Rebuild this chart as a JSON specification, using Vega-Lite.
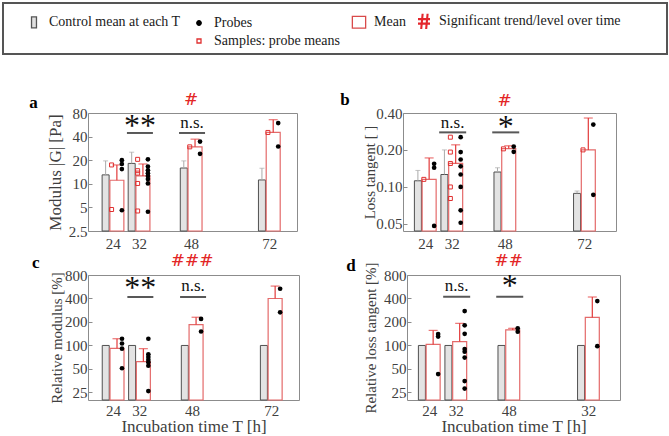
{
"$schema":"https://vega.github.io/schema/vega-lite/v6.json",
"padding":{"left":2,"top":2,"right":2,"bottom":0},
"background":"white",
"config":{
 "font":"Liberation Serif",
 "view":{"stroke":"#8c8c8c","strokeWidth":1},
 "axis":{"domain":false,"grid":false,"ticks":true,"tickSize":-4,"tickColor":"#8c8c8c","tickWidth":1,"labelPadding":9,"minExtent":0,"labelFlush":false,"labelOverlap":false,"labelFont":"Liberation Serif","labelFontSize":15,"labelColor":"#404040","titleFont":"Liberation Serif","titleFontSize":17,"titleFontWeight":"normal","titleColor":"#404040"},
 "axisY":{"labelPadding":5,"minExtent":0}
},
"datasets":{
 "legend":[{"series":"Control mean at each T"},{"series":"Probes"},{"series":"Mean"},{"series":"Significant trend/level over time"},{"series":" "},{"series":"Samples: probe means"}],
 "bars":[
  {"panel":"a","T":24,"group":"control","v":13,"err":19.6},
  {"panel":"a","T":32,"group":"control","v":18.2,"err":25.3},
  {"panel":"a","T":48,"group":"control","v":15.9,"err":19.6},
  {"panel":"a","T":72,"group":"control","v":11.2,"err":15.8},
  {"panel":"a","T":24,"group":"treated","v":11.1,"err":17.4},
  {"panel":"a","T":32,"group":"treated","v":12.6,"err":17.9},
  {"panel":"a","T":48,"group":"treated","v":29.6,"err":37.1},
  {"panel":"a","T":72,"group":"treated","v":45.2,"err":65.7},
  {"panel":"b","T":24,"group":"control","v":0.112,"err":0.136},
  {"panel":"b","T":32,"group":"control","v":0.126,"err":0.2},
  {"panel":"b","T":48,"group":"control","v":0.132,"err":0.143},
  {"panel":"b","T":72,"group":"control","v":0.0884,"err":0.0924},
  {"panel":"b","T":24,"group":"treated","v":0.115,"err":0.172},
  {"panel":"b","T":32,"group":"treated","v":0.155,"err":0.22},
  {"panel":"b","T":48,"group":"treated","v":0.205,"err":0.216},
  {"panel":"b","T":72,"group":"treated","v":0.2,"err":0.364},
  {"panel":"c","T":24,"group":"control","v":100},
  {"panel":"c","T":32,"group":"control","v":100},
  {"panel":"c","T":48,"group":"control","v":100},
  {"panel":"c","T":72,"group":"control","v":100},
  {"panel":"c","T":24,"group":"treated","v":92,"err":122},
  {"panel":"c","T":32,"group":"treated","v":62,"err":91},
  {"panel":"c","T":48,"group":"treated","v":185,"err":230},
  {"panel":"c","T":72,"group":"treated","v":400,"err":577},
  {"panel":"d","T":24,"group":"control","v":100},
  {"panel":"d","T":32,"group":"control","v":100},
  {"panel":"d","T":48,"group":"control","v":100},
  {"panel":"d","T":72,"group":"control","v":100},
  {"panel":"d","T":24,"group":"treated","v":103,"err":156},
  {"panel":"d","T":32,"group":"treated","v":112,"err":192},
  {"panel":"d","T":48,"group":"treated","v":158,"err":166},
  {"panel":"d","T":72,"group":"treated","v":229,"err":418}
 ],
 "probes":[
  {"panel":"a","T":24,"v":20},{"panel":"a","T":24,"v":17.9},{"panel":"a","T":24,"v":15.4},{"panel":"a","T":24,"v":4.6},
  {"panel":"a","T":32,"v":20.5},{"panel":"a","T":32,"v":16.6},{"panel":"a","T":32,"v":14.9},{"panel":"a","T":32,"v":13.6},{"panel":"a","T":32,"v":12.6},{"panel":"a","T":32,"v":11.5},{"panel":"a","T":32,"v":10.1},{"panel":"a","T":32,"v":4.4},
  {"panel":"a","T":48,"v":34.6},{"panel":"a","T":48,"v":24.1},
  {"panel":"a","T":72,"v":59.5},{"panel":"a","T":72,"v":29.9},
  {"panel":"b","T":24,"v":0.154},{"panel":"b","T":24,"v":0.143},{"panel":"b","T":24,"v":0.048},
  {"panel":"b","T":32,"v":0.254},{"panel":"b","T":32,"v":0.192},{"panel":"b","T":32,"v":0.167},{"panel":"b","T":32,"v":0.147},{"panel":"b","T":32,"v":0.126},{"panel":"b","T":32,"v":0.0997},{"panel":"b","T":32,"v":0.0643},{"panel":"b","T":32,"v":0.0509},
  {"panel":"b","T":48,"v":0.213},{"panel":"b","T":48,"v":0.193},
  {"panel":"b","T":72,"v":0.322},{"panel":"b","T":72,"v":0.086},
  {"panel":"c","T":24,"v":122},{"panel":"c","T":24,"v":106},{"panel":"c","T":24,"v":91},{"panel":"c","T":24,"v":51},
  {"panel":"c","T":32,"v":122},{"panel":"c","T":32,"v":77},{"panel":"c","T":32,"v":71},{"panel":"c","T":32,"v":65.5},{"panel":"c","T":32,"v":61},{"panel":"c","T":32,"v":55},{"panel":"c","T":32,"v":26},
  {"panel":"c","T":48,"v":219},{"panel":"c","T":48,"v":151},
  {"panel":"c","T":72,"v":533},{"panel":"c","T":72,"v":266},
  {"panel":"d","T":24,"v":140},{"panel":"d","T":24,"v":130},{"panel":"d","T":24,"v":43},
  {"panel":"d","T":32,"v":276},{"panel":"d","T":32,"v":181},{"panel":"d","T":32,"v":141},{"panel":"d","T":32,"v":90},{"panel":"d","T":32,"v":83},{"panel":"d","T":32,"v":70},{"panel":"d","T":32,"v":35},{"panel":"d","T":32,"v":28},
  {"panel":"d","T":48,"v":166},{"panel":"d","T":48,"v":150},
  {"panel":"d","T":72,"v":371},{"panel":"d","T":72,"v":98}
 ],
 "samples":[
  {"panel":"a","T":24,"v":17.4},{"panel":"a","T":24,"v":4.7},
  {"panel":"a","T":32,"v":20.5},{"panel":"a","T":32,"v":14.7},{"panel":"a","T":32,"v":13.7},{"panel":"a","T":32,"v":10.1},{"panel":"a","T":32,"v":4.5},
  {"panel":"a","T":48,"v":29.6},{"panel":"a","T":72,"v":45.2},
  {"panel":"b","T":24,"v":0.115},
  {"panel":"b","T":32,"v":0.254},{"panel":"b","T":32,"v":0.192},{"panel":"b","T":32,"v":0.155},{"panel":"b","T":32,"v":0.0997},{"panel":"b","T":32,"v":0.0803},
  {"panel":"b","T":48,"v":0.204},{"panel":"b","T":72,"v":0.2}
 ],
 "sig":[
  {"panel":"a","T":32,"label":"**"},{"panel":"a","T":48,"label":"n.s."},
  {"panel":"b","T":32,"label":"n.s."},{"panel":"b","T":48,"label":"*"},
  {"panel":"c","T":32,"label":"**"},{"panel":"c","T":48,"label":"n.s."},
  {"panel":"d","T":32,"label":"n.s."},{"panel":"d","T":48,"label":"*"}
 ],
 "trend":[
  {"panel":"a","label":"#"},{"panel":"b","label":"#"},{"panel":"c","label":"###"},{"panel":"d","label":"##"}
 ]
},
"center":false,
"spacing":35,
"resolve":{"scale":{"x":"independent","y":"independent"},"legend":{"shape":"independent","fill":"independent","stroke":"independent"}},
"vconcat":[
 {
  "width":579,"height":51,
  "view":{"stroke":null},
  "layer":[
   {"data":{"values":[{"item":"legend box"}]},
    "mark":{"type":"rect","fill":"#ffffff","stroke":"#555555","strokeWidth":2},
    "encoding":{
     "x":{"datum":-0.1468,"type":"quantitative","scale":{"domain":[0,1],"nice":false,"zero":false},"axis":null},
     "x2":{"datum":1},
     "y":{"datum":0,"type":"quantitative","scale":{"domain":[0,1],"nice":false,"zero":false},"axis":null},
     "y2":{"datum":1}
    }},
   {"data":{"name":"legend"},
    "mark":{"type":"point","opacity":0},
    "encoding":{
     "shape":{"field":"series","type":"nominal","scale":{"domain":["Control mean at each T","Probes","Mean","Significant trend/level over time"," ","Samples: probe means"],"range":["M-0.31,-0.69H0.31V0.69H-0.31Z","M0.28,0A0.28,0.28,0,1,1,-0.28,0A0.28,0.28,0,1,1,0.28,0Z","M-0.83,-0.73H0.83V0.73H-0.83Z","M-0.22,-0.95L-0.4,0.95M-0.12,-0.95L-0.3,0.95M0.4,-0.95L0.22,0.95M0.5,-0.95L0.32,0.95M-0.75,-0.33H0.75M-0.75,-0.23H0.75M-0.75,0.23H0.75M-0.75,0.33H0.75","M0,0L0,0","M-0.25,-0.25H0.25V0.25H-0.25Z"]},
      "legend":{"orient":"none","legendX":-63,"legendY":9,"direction":"horizontal","columns":4,"columnPadding":9,"rowPadding":-5,"title":null,"values":["Control mean at each T","Probes","Mean","Significant trend/level over time"," ","Samples: probe means"],"labelFont":"Liberation Serif","labelFontSize":14,"labelColor":"#1a1a1a","labelOffset":6,"symbolOpacity":1,"symbolSize":256,"symbolStrokeWidth":1.3,"labelLimit":400}},
     "fill":{"field":"series","type":"nominal","scale":{"domain":["Control mean at each T","Probes","Mean","Significant trend/level over time"," ","Samples: probe means"],"range":["#e0e0e0","#000000","#ffffff","transparent","transparent","#ffffff"]}},
     "stroke":{"field":"series","type":"nominal","scale":{"domain":["Control mean at each T","Probes","Mean","Significant trend/level over time"," ","Samples: probe means"],"range":["#555555","#000000","#d94a4a","#e4262c","transparent","#e03030"]}}
    }}
  ]
 },
 {
  "center":false,"spacing":-1,
  "resolve":{"scale":{"x":"independent","y":"independent"}},
  "vconcat":[
   {"spacing":41,"resolve":{"scale":{"x":"independent","y":"independent"}},"hconcat":[
    {
     "width":209,"height":118,
     "layer":[
      {"data":{"name":"bars"},"transform":[{"filter":"datum.panel==='a'&&datum.group==='control'"}],"mark":{"type":"bar","width":7,"xOffset":-7.25,"fill":"#e3e3e3","stroke":"#505050","strokeWidth":1},
       "encoding":{"x":{"field":"T","type":"quantitative","scale":{"domain":[17.9,79],"nice":false,"zero":false},"axis":{"values":[24,32,48,72],"title":null}},
        "y":{"field":"v","type":"quantitative","scale":{"type":"log","domain":[2.5,80],"nice":false},"axis":{"values":[2.5,5,10,20,40,80],"format":"~g","title":"Modulus |G| [Pa]","titlePadding":4}},
        "y2":{"datum":2.5}}},
      {"data":{"name":"bars"},"transform":[{"filter":"datum.panel==='a'&&datum.group==='control'"}],"mark":{"type":"rule","xOffset":-7.25,"color":"#aaaaaa","strokeWidth":1},
       "encoding":{"x":{"field":"T","type":"quantitative","scale":{"domain":[17.9,79],"nice":false,"zero":false}},"y":{"field":"v","type":"quantitative","scale":{"type":"log","domain":[2.5,80],"nice":false}},"y2":{"field":"err"}}},
      {"data":{"name":"bars"},"transform":[{"filter":"datum.panel==='a'&&datum.group==='control'"}],"mark":{"type":"tick","orient":"horizontal","xOffset":-7.25,"color":"#aaaaaa","size":5,"thickness":1},
       "encoding":{"x":{"field":"T","type":"quantitative","scale":{"domain":[17.9,79],"nice":false,"zero":false}},"y":{"field":"err","type":"quantitative","scale":{"type":"log","domain":[2.5,80],"nice":false}}}},
      {"data":{"name":"bars"},"transform":[{"filter":"datum.panel==='a'&&datum.group==='treated'"}],"mark":{"type":"bar","width":14,"xOffset":4,"fill":"#ffffff","stroke":"#e46a6a","strokeWidth":1.2},
       "encoding":{"x":{"field":"T","type":"quantitative","scale":{"domain":[17.9,79],"nice":false,"zero":false}},"y":{"field":"v","type":"quantitative","scale":{"type":"log","domain":[2.5,80],"nice":false}},"y2":{"datum":2.5}}},
      {"data":{"name":"bars"},"transform":[{"filter":"datum.panel==='a'&&datum.group==='treated'"}],"mark":{"type":"rule","xOffset":4,"color":"#e23a3a","strokeWidth":1.2},
       "encoding":{"x":{"field":"T","type":"quantitative","scale":{"domain":[17.9,79],"nice":false,"zero":false}},"y":{"field":"v","type":"quantitative","scale":{"type":"log","domain":[2.5,80],"nice":false}},"y2":{"field":"err"}}},
      {"data":{"name":"bars"},"transform":[{"filter":"datum.panel==='a'&&datum.group==='treated'"}],"mark":{"type":"tick","orient":"horizontal","xOffset":4,"color":"#e23a3a","size":9,"thickness":1.2},
       "encoding":{"x":{"field":"T","type":"quantitative","scale":{"domain":[17.9,79],"nice":false,"zero":false}},"y":{"field":"err","type":"quantitative","scale":{"type":"log","domain":[2.5,80],"nice":false}}}},
      {"data":{"name":"samples"},"transform":[{"filter":"datum.panel==='a'"}],"mark":{"type":"point","shape":"square","filled":false,"color":"#e03030","size":16,"strokeWidth":1,"xOffset":-1.3,"opacity":1},
       "encoding":{"x":{"field":"T","type":"quantitative","scale":{"domain":[17.9,79],"nice":false,"zero":false}},"y":{"field":"v","type":"quantitative","scale":{"type":"log","domain":[2.5,80],"nice":false}}}},
      {"data":{"name":"probes"},"transform":[{"filter":"datum.panel==='a'"}],"mark":{"type":"circle","color":"#000000","size":22,"opacity":1,"xOffset":9},
       "encoding":{"x":{"field":"T","type":"quantitative","scale":{"domain":[17.9,79],"nice":false,"zero":false}},"y":{"field":"v","type":"quantitative","scale":{"type":"log","domain":[2.5,80],"nice":false}}}},
      {"data":{"name":"sig"},"transform":[{"filter":"datum.panel==='a'"}],"mark":{"type":"tick","orient":"horizontal","size":26,"thickness":2,"color":"#111111","xOffset":1},
       "encoding":{"x":{"field":"T","type":"quantitative","scale":{"domain":[17.9,79],"nice":false,"zero":false}},"y":{"datum":44.5,"type":"quantitative","scale":{"type":"log","domain":[2.5,80],"nice":false}}}},
      {"data":{"name":"sig"},"transform":[{"filter":"datum.panel==='a'&&datum.label!=='n.s.'"}],"mark":{"type":"text","fontSize":32,"baseline":"middle","xOffset":1,"color":"#111111"},
       "encoding":{"x":{"field":"T","type":"quantitative","scale":{"domain":[17.9,79],"nice":false,"zero":false}},"y":{"datum":55,"type":"quantitative","scale":{"type":"log","domain":[2.5,80],"nice":false}},"text":{"field":"label"}}},
      {"data":{"name":"sig"},"transform":[{"filter":"datum.panel==='a'&&datum.label==='n.s.'"}],"mark":{"type":"text","fontSize":17,"baseline":"middle","xOffset":1,"color":"#111111"},
       "encoding":{"x":{"field":"T","type":"quantitative","scale":{"domain":[17.9,79],"nice":false,"zero":false}},"y":{"datum":59.7,"type":"quantitative","scale":{"type":"log","domain":[2.5,80],"nice":false}},"text":{"field":"label"}}},
      {"data":{"name":"trend"},"transform":[{"filter":"datum.panel==='a'"}],"mark":{"type":"text","font":"DejaVu Serif","fontSize":17,"baseline":"middle","color":"#e32626"},
       "encoding":{"x":{"datum":48,"type":"quantitative","scale":{"domain":[17.9,79],"nice":false,"zero":false}},"y":{"datum":117.2,"type":"quantitative","scale":{"type":"log","domain":[2.5,80],"nice":false}},"text":{"field":"label"}}},
      {"data":{"name":"trend"},"transform":[{"filter":"datum.panel==='a'"}],"mark":{"type":"text","fontSize":17,"fontWeight":"bold","align":"left","baseline":"alphabetic","color":"#000000"},
       "encoding":{"x":{"datum":-1.69,"type":"quantitative","scale":{"domain":[17.9,79],"nice":false,"zero":false}},"y":{"datum":91.8,"type":"quantitative","scale":{"type":"log","domain":[2.5,80],"nice":false}},"text":{"field":"panel"}}},
      {"data":{"name":"trend"},"transform":[{"filter":"datum.panel==='a'"}],"mark":{"type":"text","fontSize":17,"fontWeight":"bold","align":"left","baseline":"alphabetic","opacity":0},
       "encoding":{"x":{"datum":-9.58,"type":"quantitative","scale":{"domain":[17.9,79],"nice":false,"zero":false}},"y":{"datum":91.8,"type":"quantitative","scale":{"type":"log","domain":[2.5,80],"nice":false}},"text":{"field":"panel"}}}
     ]
    },
    {
     "width":213,"height":118,
     "layer":[
      {"data":{"name":"bars"},"transform":[{"filter":"datum.panel==='b'&&datum.group==='control'"}],"mark":{"type":"bar","width":7,"xOffset":-7.25,"fill":"#e3e3e3","stroke":"#505050","strokeWidth":1},
       "encoding":{"x":{"field":"T","type":"quantitative","scale":{"domain":[18.83,80.05],"nice":false,"zero":false},"axis":{"values":[24,32,48,72],"title":null}},
        "y":{"field":"v","type":"quantitative","scale":{"type":"log","domain":[0.0436,0.4],"nice":false},"axis":{"values":[0.05,0.1,0.2,0.4],"format":".2f","title":"Loss tangent  [ ]","titleFontSize":15,"titlePadding":-2}},
        "y2":{"datum":0.0436}}},
      {"data":{"name":"bars"},"transform":[{"filter":"datum.panel==='b'&&datum.group==='control'"}],"mark":{"type":"rule","xOffset":-7.25,"color":"#aaaaaa","strokeWidth":1},
       "encoding":{"x":{"field":"T","type":"quantitative","scale":{"domain":[18.83,80.05],"nice":false,"zero":false}},"y":{"field":"v","type":"quantitative","scale":{"type":"log","domain":[0.0436,0.4],"nice":false}},"y2":{"field":"err"}}},
      {"data":{"name":"bars"},"transform":[{"filter":"datum.panel==='b'&&datum.group==='control'"}],"mark":{"type":"tick","orient":"horizontal","xOffset":-7.25,"color":"#aaaaaa","size":5,"thickness":1},
       "encoding":{"x":{"field":"T","type":"quantitative","scale":{"domain":[18.83,80.05],"nice":false,"zero":false}},"y":{"field":"err","type":"quantitative","scale":{"type":"log","domain":[0.0436,0.4],"nice":false}}}},
      {"data":{"name":"bars"},"transform":[{"filter":"datum.panel==='b'&&datum.group==='treated'"}],"mark":{"type":"bar","width":14,"xOffset":4,"fill":"#ffffff","stroke":"#e46a6a","strokeWidth":1.2},
       "encoding":{"x":{"field":"T","type":"quantitative","scale":{"domain":[18.83,80.05],"nice":false,"zero":false}},"y":{"field":"v","type":"quantitative","scale":{"type":"log","domain":[0.0436,0.4],"nice":false}},"y2":{"datum":0.0436}}},
      {"data":{"name":"bars"},"transform":[{"filter":"datum.panel==='b'&&datum.group==='treated'"}],"mark":{"type":"rule","xOffset":4,"color":"#e23a3a","strokeWidth":1.2},
       "encoding":{"x":{"field":"T","type":"quantitative","scale":{"domain":[18.83,80.05],"nice":false,"zero":false}},"y":{"field":"v","type":"quantitative","scale":{"type":"log","domain":[0.0436,0.4],"nice":false}},"y2":{"field":"err"}}},
      {"data":{"name":"bars"},"transform":[{"filter":"datum.panel==='b'&&datum.group==='treated'"}],"mark":{"type":"tick","orient":"horizontal","xOffset":4,"color":"#e23a3a","size":9,"thickness":1.2},
       "encoding":{"x":{"field":"T","type":"quantitative","scale":{"domain":[18.83,80.05],"nice":false,"zero":false}},"y":{"field":"err","type":"quantitative","scale":{"type":"log","domain":[0.0436,0.4],"nice":false}}}},
      {"data":{"name":"samples"},"transform":[{"filter":"datum.panel==='b'"}],"mark":{"type":"point","shape":"square","filled":false,"color":"#e03030","size":16,"strokeWidth":1,"xOffset":-1.3,"opacity":1},
       "encoding":{"x":{"field":"T","type":"quantitative","scale":{"domain":[18.83,80.05],"nice":false,"zero":false}},"y":{"field":"v","type":"quantitative","scale":{"type":"log","domain":[0.0436,0.4],"nice":false}}}},
      {"data":{"name":"probes"},"transform":[{"filter":"datum.panel==='b'"}],"mark":{"type":"circle","color":"#000000","size":22,"opacity":1,"xOffset":9},
       "encoding":{"x":{"field":"T","type":"quantitative","scale":{"domain":[18.83,80.05],"nice":false,"zero":false}},"y":{"field":"v","type":"quantitative","scale":{"type":"log","domain":[0.0436,0.4],"nice":false}}}},
      {"data":{"name":"sig"},"transform":[{"filter":"datum.panel==='b'"}],"mark":{"type":"tick","orient":"horizontal","size":27,"thickness":2,"color":"#111111","xOffset":1},
       "encoding":{"x":{"field":"T","type":"quantitative","scale":{"domain":[18.83,80.05],"nice":false,"zero":false}},"y":{"datum":0.278,"type":"quantitative","scale":{"type":"log","domain":[0.0436,0.4],"nice":false}}}},
      {"data":{"name":"sig"},"transform":[{"filter":"datum.panel==='b'&&datum.label!=='n.s.'"}],"mark":{"type":"text","fontSize":32,"baseline":"middle","xOffset":1,"color":"#111111"},
       "encoding":{"x":{"field":"T","type":"quantitative","scale":{"domain":[18.83,80.05],"nice":false,"zero":false}},"y":{"datum":0.31,"type":"quantitative","scale":{"type":"log","domain":[0.0436,0.4],"nice":false}},"text":{"field":"label"}}},
      {"data":{"name":"sig"},"transform":[{"filter":"datum.panel==='b'&&datum.label==='n.s.'"}],"mark":{"type":"text","fontSize":17,"baseline":"middle","xOffset":1,"color":"#111111"},
       "encoding":{"x":{"field":"T","type":"quantitative","scale":{"domain":[18.83,80.05],"nice":false,"zero":false}},"y":{"datum":0.332,"type":"quantitative","scale":{"type":"log","domain":[0.0436,0.4],"nice":false}},"text":{"field":"label"}}},
      {"data":{"name":"trend"},"transform":[{"filter":"datum.panel==='b'"}],"mark":{"type":"text","font":"DejaVu Serif","fontSize":17,"baseline":"middle","color":"#e32626"},
       "encoding":{"x":{"datum":48,"type":"quantitative","scale":{"domain":[18.83,80.05],"nice":false,"zero":false}},"y":{"datum":0.503,"type":"quantitative","scale":{"type":"log","domain":[0.0436,0.4],"nice":false}},"text":{"field":"label"}}},
      {"data":{"name":"trend"},"transform":[{"filter":"datum.panel==='b'"}],"mark":{"type":"text","fontSize":17,"fontWeight":"bold","align":"left","baseline":"alphabetic","color":"#000000"},
       "encoding":{"x":{"datum":-1.58,"type":"quantitative","scale":{"domain":[18.83,80.05],"nice":false,"zero":false}},"y":{"datum":0.465,"type":"quantitative","scale":{"type":"log","domain":[0.0436,0.4],"nice":false}},"text":{"field":"panel"}}}
     ]
    }
   ]},
   {"spacing":45,"resolve":{"scale":{"x":"independent","y":"independent"}},"hconcat":[
    {
     "width":211,"height":125,
     "layer":[
      {"data":{"name":"bars"},"transform":[{"filter":"datum.panel==='c'&&datum.group==='control'"}],"mark":{"type":"bar","width":7,"xOffset":-7.25,"fill":"#e3e3e3","stroke":"#505050","strokeWidth":1},
       "encoding":{"x":{"field":"T","type":"quantitative","scale":{"domain":[17.93,78.94],"nice":false,"zero":false},"axis":{"values":[24,32,48,72],"labelPadding":7,"title":"Incubation time T [h]","titlePadding":0}},
        "y":{"field":"v","type":"quantitative","scale":{"type":"log","domain":[20,800],"nice":false},"axis":{"values":[25,50,100,200,400,800],"format":"~g","title":"Relative modulus [%]","titleFontSize":15,"titlePadding":0}},
        "y2":{"datum":20}}},
      {"data":{"name":"bars"},"transform":[{"filter":"datum.panel==='c'&&datum.group==='treated'"}],"mark":{"type":"bar","width":14,"xOffset":4,"fill":"#ffffff","stroke":"#e46a6a","strokeWidth":1.2},
       "encoding":{"x":{"field":"T","type":"quantitative","scale":{"domain":[17.93,78.94],"nice":false,"zero":false}},"y":{"field":"v","type":"quantitative","scale":{"type":"log","domain":[20,800],"nice":false}},"y2":{"datum":20}}},
      {"data":{"name":"bars"},"transform":[{"filter":"datum.panel==='c'&&datum.group==='treated'"}],"mark":{"type":"rule","xOffset":4,"color":"#e23a3a","strokeWidth":1.2},
       "encoding":{"x":{"field":"T","type":"quantitative","scale":{"domain":[17.93,78.94],"nice":false,"zero":false}},"y":{"field":"v","type":"quantitative","scale":{"type":"log","domain":[20,800],"nice":false}},"y2":{"field":"err"}}},
      {"data":{"name":"bars"},"transform":[{"filter":"datum.panel==='c'&&datum.group==='treated'"}],"mark":{"type":"tick","orient":"horizontal","xOffset":4,"color":"#e23a3a","size":9,"thickness":1.2},
       "encoding":{"x":{"field":"T","type":"quantitative","scale":{"domain":[17.93,78.94],"nice":false,"zero":false}},"y":{"field":"err","type":"quantitative","scale":{"type":"log","domain":[20,800],"nice":false}}}},
      {"data":{"name":"probes"},"transform":[{"filter":"datum.panel==='c'"}],"mark":{"type":"circle","color":"#000000","size":22,"opacity":1,"xOffset":9},
       "encoding":{"x":{"field":"T","type":"quantitative","scale":{"domain":[17.93,78.94],"nice":false,"zero":false}},"y":{"field":"v","type":"quantitative","scale":{"type":"log","domain":[20,800],"nice":false}}}},
      {"data":{"name":"sig"},"transform":[{"filter":"datum.panel==='c'"}],"mark":{"type":"tick","orient":"horizontal","size":26,"thickness":2,"color":"#111111","xOffset":1},
       "encoding":{"x":{"field":"T","type":"quantitative","scale":{"domain":[17.93,78.94],"nice":false,"zero":false}},"y":{"datum":418,"type":"quantitative","scale":{"type":"log","domain":[20,800],"nice":false}}}},
      {"data":{"name":"sig"},"transform":[{"filter":"datum.panel==='c'&&datum.label!=='n.s.'"}],"mark":{"type":"text","fontSize":32,"baseline":"middle","xOffset":1,"color":"#111111"},
       "encoding":{"x":{"field":"T","type":"quantitative","scale":{"domain":[17.93,78.94],"nice":false,"zero":false}},"y":{"datum":545,"type":"quantitative","scale":{"type":"log","domain":[20,800],"nice":false}},"text":{"field":"label"}}},
      {"data":{"name":"sig"},"transform":[{"filter":"datum.panel==='c'&&datum.label==='n.s.'"}],"mark":{"type":"text","fontSize":17,"baseline":"middle","xOffset":1,"color":"#111111"},
       "encoding":{"x":{"field":"T","type":"quantitative","scale":{"domain":[17.93,78.94],"nice":false,"zero":false}},"y":{"datum":580,"type":"quantitative","scale":{"type":"log","domain":[20,800],"nice":false}},"text":{"field":"label"}}},
      {"data":{"name":"trend"},"transform":[{"filter":"datum.panel==='c'"}],"mark":{"type":"text","font":"DejaVu Serif","fontSize":17,"baseline":"middle","color":"#e32626"},
       "encoding":{"x":{"datum":48,"type":"quantitative","scale":{"domain":[17.93,78.94],"nice":false,"zero":false}},"y":{"datum":1227,"type":"quantitative","scale":{"type":"log","domain":[20,800],"nice":false}},"text":{"field":"label"}}},
      {"data":{"name":"trend"},"transform":[{"filter":"datum.panel==='c'"}],"mark":{"type":"text","fontSize":17,"fontWeight":"bold","align":"left","baseline":"alphabetic","color":"#000000"},
       "encoding":{"x":{"datum":-0.58,"type":"quantitative","scale":{"domain":[17.93,78.94],"nice":false,"zero":false}},"y":{"datum":972,"type":"quantitative","scale":{"type":"log","domain":[20,800],"nice":false}},"text":{"field":"panel"}}},
      {"data":{"name":"trend"},"transform":[{"filter":"datum.panel==='c'"}],"mark":{"type":"text","fontSize":17,"fontWeight":"bold","align":"left","baseline":"alphabetic","opacity":0},
       "encoding":{"x":{"datum":-8.68,"type":"quantitative","scale":{"domain":[17.93,78.94],"nice":false,"zero":false}},"y":{"datum":972,"type":"quantitative","scale":{"type":"log","domain":[20,800],"nice":false}},"text":{"field":"panel"}}}
     ]
    },
    {
     "width":213,"height":125,
     "layer":[
      {"data":{"name":"bars"},"transform":[{"filter":"datum.panel==='d'&&datum.group==='control'"}],"mark":{"type":"bar","width":7,"xOffset":-7.25,"fill":"#e3e3e3","stroke":"#505050","strokeWidth":1},
       "encoding":{"x":{"field":"T","type":"quantitative","scale":{"domain":[18.83,80.05],"nice":false,"zero":false},"axis":{"values":[24,32,48,72],"labelPadding":7,"labelExpr":"datum.value==72?'32':datum.label","title":"Incubation time T [h]","titlePadding":0}},
        "y":{"field":"v","type":"quantitative","scale":{"type":"log","domain":[20,800],"nice":false},"axis":{"values":[25,50,100,200,400,800],"format":"~g","title":"Relative loss tangent [%]","titleFontSize":15,"titlePadding":5}},
        "y2":{"datum":20}}},
      {"data":{"name":"bars"},"transform":[{"filter":"datum.panel==='d'&&datum.group==='treated'"}],"mark":{"type":"bar","width":14,"xOffset":4,"fill":"#ffffff","stroke":"#e46a6a","strokeWidth":1.2},
       "encoding":{"x":{"field":"T","type":"quantitative","scale":{"domain":[18.83,80.05],"nice":false,"zero":false}},"y":{"field":"v","type":"quantitative","scale":{"type":"log","domain":[20,800],"nice":false}},"y2":{"datum":20}}},
      {"data":{"name":"bars"},"transform":[{"filter":"datum.panel==='d'&&datum.group==='treated'"}],"mark":{"type":"rule","xOffset":4,"color":"#e23a3a","strokeWidth":1.2},
       "encoding":{"x":{"field":"T","type":"quantitative","scale":{"domain":[18.83,80.05],"nice":false,"zero":false}},"y":{"field":"v","type":"quantitative","scale":{"type":"log","domain":[20,800],"nice":false}},"y2":{"field":"err"}}},
      {"data":{"name":"bars"},"transform":[{"filter":"datum.panel==='d'&&datum.group==='treated'"}],"mark":{"type":"tick","orient":"horizontal","xOffset":4,"color":"#e23a3a","size":9,"thickness":1.2},
       "encoding":{"x":{"field":"T","type":"quantitative","scale":{"domain":[18.83,80.05],"nice":false,"zero":false}},"y":{"field":"err","type":"quantitative","scale":{"type":"log","domain":[20,800],"nice":false}}}},
      {"data":{"name":"probes"},"transform":[{"filter":"datum.panel==='d'"}],"mark":{"type":"circle","color":"#000000","size":22,"opacity":1,"xOffset":9},
       "encoding":{"x":{"field":"T","type":"quantitative","scale":{"domain":[18.83,80.05],"nice":false,"zero":false}},"y":{"field":"v","type":"quantitative","scale":{"type":"log","domain":[20,800],"nice":false}}}},
      {"data":{"name":"sig"},"transform":[{"filter":"datum.panel==='d'"}],"mark":{"type":"tick","orient":"horizontal","size":27,"thickness":2,"color":"#111111","xOffset":1},
       "encoding":{"x":{"field":"T","type":"quantitative","scale":{"domain":[18.83,80.05],"nice":false,"zero":false}},"y":{"datum":421,"type":"quantitative","scale":{"type":"log","domain":[20,800],"nice":false}}}},
      {"data":{"name":"sig"},"transform":[{"filter":"datum.panel==='d'&&datum.label!=='n.s.'"}],"mark":{"type":"text","fontSize":32,"baseline":"middle","xOffset":1,"color":"#111111"},
       "encoding":{"x":{"field":"T","type":"quantitative","scale":{"domain":[18.83,80.05],"nice":false,"zero":false}},"y":{"datum":575,"type":"quantitative","scale":{"type":"log","domain":[20,800],"nice":false}},"text":{"field":"label"}}},
      {"data":{"name":"sig"},"transform":[{"filter":"datum.panel==='d'&&datum.label==='n.s.'"}],"mark":{"type":"text","fontSize":17,"baseline":"middle","xOffset":1,"color":"#111111"},
       "encoding":{"x":{"field":"T","type":"quantitative","scale":{"domain":[18.83,80.05],"nice":false,"zero":false}},"y":{"datum":570,"type":"quantitative","scale":{"type":"log","domain":[20,800],"nice":false}},"text":{"field":"label"}}},
      {"data":{"name":"trend"},"transform":[{"filter":"datum.panel==='d'"}],"mark":{"type":"text","font":"DejaVu Serif","fontSize":17,"baseline":"middle","color":"#e32626"},
       "encoding":{"x":{"datum":48,"type":"quantitative","scale":{"domain":[18.83,80.05],"nice":false,"zero":false}},"y":{"datum":1227,"type":"quantitative","scale":{"type":"log","domain":[20,800],"nice":false}},"text":{"field":"label"}}},
      {"data":{"name":"trend"},"transform":[{"filter":"datum.panel==='d'"}],"mark":{"type":"text","fontSize":17,"fontWeight":"bold","align":"left","baseline":"alphabetic","color":"#000000"},
       "encoding":{"x":{"datum":-1.0,"type":"quantitative","scale":{"domain":[18.83,80.05],"nice":false,"zero":false}},"y":{"datum":908,"type":"quantitative","scale":{"type":"log","domain":[20,800],"nice":false}},"text":{"field":"panel"}}}
     ]
    }
   ]}
  ]
 }
]
}
